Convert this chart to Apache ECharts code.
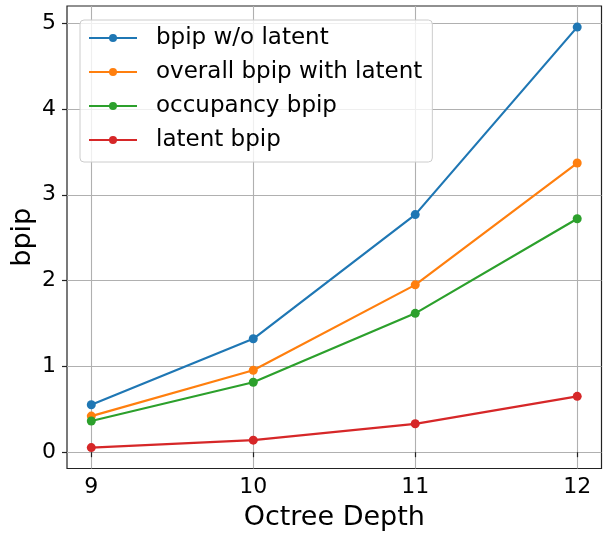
<!DOCTYPE html>
<html>
<head>
<meta charset="utf-8">
<script src="https://cdn.jsdelivr.net/npm/echarts@6/dist/echarts.min.js"></script>
<style>html,body{margin:0;padding:0;background:#fff}#c{width:603px;height:533px}</style>
</head>
<body>
<div id="c"></div>
<script>
const depths = [9, 10, 11, 12];
const bpipWoLatent = [0.553, 1.322, 2.769, 4.954];
const overallBpip = [0.421, 0.955, 1.95, 3.37];
const occupancyBpip = [0.363, 0.815, 1.618, 2.72];
const latentBpip = [0.054, 0.14, 0.331, 0.651];
const xTicks = [9, 10, 11, 12];
const yTicks = [0, 1, 2, 3, 4, 5];
const seriesNames = ['bpip w/o latent', 'overall bpip with latent', 'occupancy bpip', 'latent bpip'];
const colors = ['#1f77b4', '#ff7f0e', '#2ca02c', '#d62728'];

const allSeries = [bpipWoLatent, overallBpip, occupancyBpip, latentBpip];
const font = 'DejaVu Sans';
const chart = echarts.init(document.getElementById('c'));
chart.setOption({
  animation: false,
  color: colors,
  textStyle: { fontFamily: font },
  grid: { left: 67, right: 1.5, top: 6, bottom: 64.5, show: true, borderColor: '#222', borderWidth: 1.2, containLabel: false, outerBoundsMode: 'none' },
  legend: {
    orient: 'vertical', left: 80, top: 20,
    padding: [6, 10, 10, 8],
    itemWidth: 48, itemHeight: 10, itemGap: 10,
    backgroundColor: 'rgba(255,255,255,0.8)',
    borderColor: '#cccccc', borderWidth: 1, borderRadius: 4,
    textStyle: { fontFamily: font, fontSize: 23, color: '#000', lineHeight: 24, padding: [0, 0, 0, 14] },
    data: seriesNames
  },
  xAxis: {
    type: 'value', min: 8.85, max: 12.15,
    name: 'Octree Depth', nameLocation: 'middle', nameGap: 36,
    nameTextStyle: { fontFamily: font, fontSize: 27, color: '#000' },
    axisLine: { show: false },
    axisTick: { show: true, length: 5, inside: false, customValues: xTicks, lineStyle: { color: '#222', width: 1.2 } },
    axisLabel: { customValues: xTicks, fontFamily: font, fontSize: 22, color: '#000', margin: 8 },
    splitLine: { show: true, lineStyle: { color: '#b0b0b0', width: 1.1 } }
  },
  yAxis: {
    type: 'value', min: -0.19, max: 5.2,
    name: 'bpip', nameLocation: 'middle', nameGap: 31, nameRotate: 90, nameMoveOverlap: false,
    nameTextStyle: { fontFamily: font, fontSize: 27, color: '#000' },
    axisLine: { show: false },
    axisTick: { show: true, length: 5, inside: false, customValues: yTicks, lineStyle: { color: '#222', width: 1.2 } },
    axisLabel: { customValues: yTicks, fontFamily: font, fontSize: 22, color: '#000', margin: 11 },
    splitLine: { show: true, lineStyle: { color: '#b0b0b0', width: 1.1 } }
  },
  series: allSeries.map((vals, i) => ({
    name: seriesNames[i],
    type: 'line',
    data: depths.map((d, j) => [d, vals[j]]),
    symbol: 'circle', symbolSize: 9,
    lineStyle: { width: 2.2 },
    itemStyle: { color: colors[i] },
    z: 3
  }))
});
</script>
</body>
</html>
